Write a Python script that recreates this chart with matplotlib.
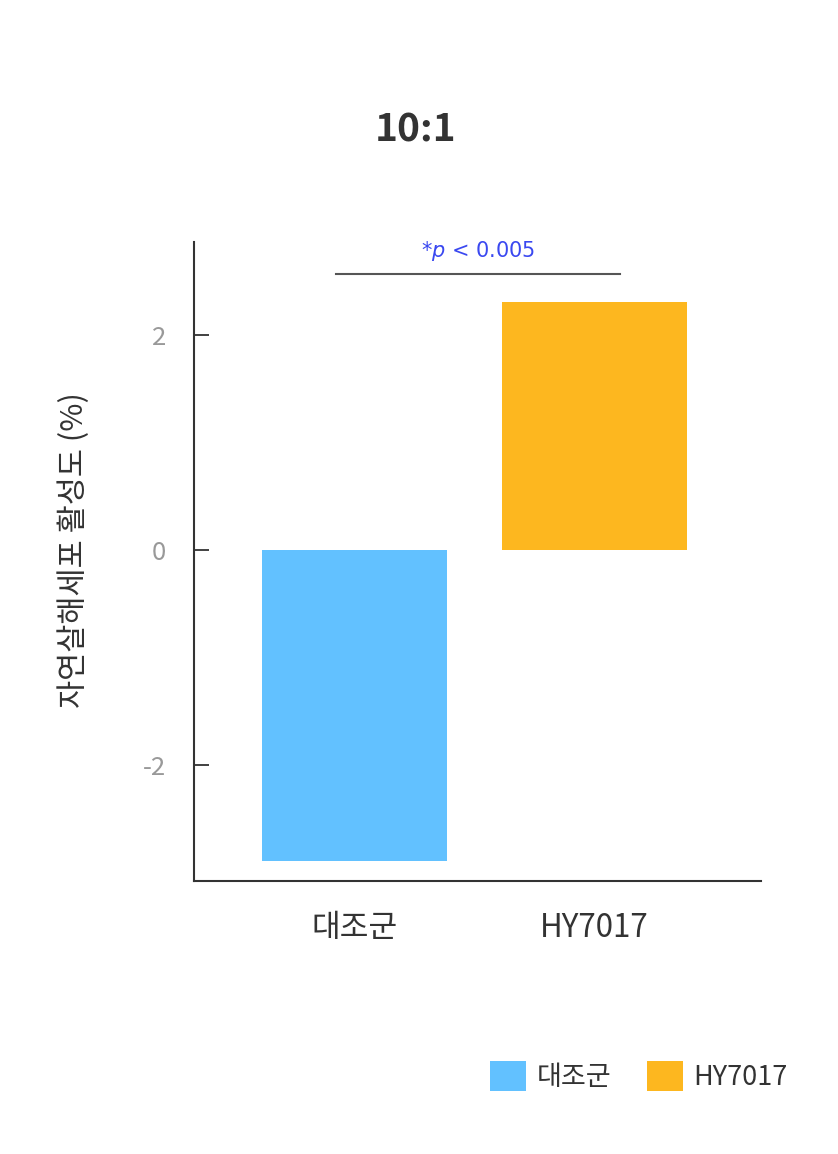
import matplotlib.pyplot as plt
from matplotlib.patches import Patch

plt.rcParams['font.family'] = ['Noto Sans CJK KR', 'DejaVu Sans']

# data
groups = ['대조군', 'HY7017']
values = [-2.90, 2.31]
colors = ['#62C1FF', '#FDB71F']
yticks = [-2, 0, 2]
title = '10:1'
ylabel = '자연살해세포 활성도 (%)'
sig_text = '$\\it{*p}$ < 0.005'

fig = plt.figure(figsize=(8.38, 11.54), dpi=100)
ax = fig.add_axes([0.2315, 0.2366, 0.908 - 0.2315, 0.7903 - 0.2366])

x = list(range(len(groups)))
ax.bar(x, values, width=0.77, color=colors, edgecolor='none')

ax.set_xlim(-0.669, 1.694)
ax.set_ylim(-3.085, 2.87)
ax.set_yticks(yticks)
ax.set_yticklabels([str(t) for t in yticks])
ax.set_xticks(x)
ax.set_xticklabels(groups)

for s in ['top', 'right']:
    ax.spines[s].set_visible(False)
for s in ['left', 'bottom']:
    ax.spines[s].set_color('#333333')
    ax.spines[s].set_linewidth(1.5)

ax.tick_params(axis='y', direction='in', length=11, width=1.3, color='#333333',
               labelsize=18.5, labelcolor='#999999', pad=20)
ax.tick_params(axis='x', length=0, labelsize=22.5, labelcolor='#333333', pad=22)

ax.set_ylabel(ylabel, fontsize=22, color='#333333', labelpad=38)
ax.yaxis.label.set_y(0.518)

# significance bracket
ax.plot([-0.077, 1.106], [2.569, 2.569], color='#555555', lw=1.5, clip_on=False)
ax.text(0.517, 2.67, sig_text, ha='center', va='bottom', fontsize=15, color='#3A48F0',
        family=['DejaVu Sans'])

fig.text(0.496, 0.887, title, ha='center', va='center', fontsize=28,
         fontweight='bold', color='#333333')

handles = [Patch(facecolor=c, edgecolor='none') for c in colors]
fig.legend(handles, groups, loc='center right', bbox_to_anchor=(0.94, 0.0676),
           ncol=2, frameon=False, fontsize=19.5, handlelength=1.33, handleheight=1.33,
           handletextpad=0.4, columnspacing=1.3, borderpad=0, borderaxespad=0,
           labelcolor='#333333')

fig.savefig('out.png', dpi=100, facecolor='white')
